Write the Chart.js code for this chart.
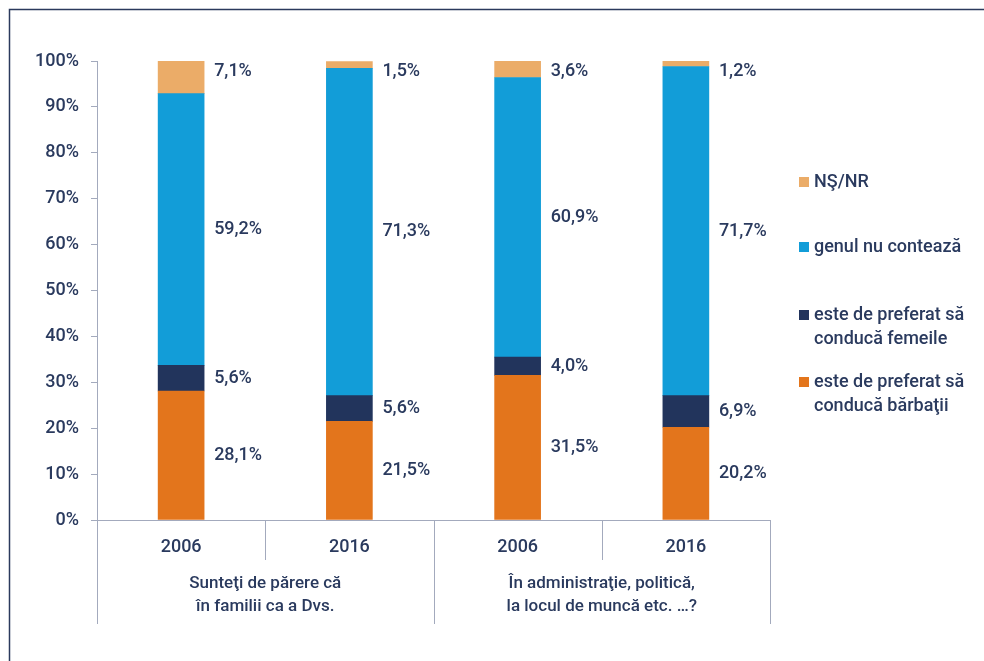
<!DOCTYPE html>
<html>
<head>
<meta charset="utf-8">
<script src="https://cdn.jsdelivr.net/npm/chart.js@4"></script>
<style>
  html, body { margin: 0; padding: 0; background: #fff; }
  #wrap { width: 984px; height: 661px; }
</style>
</head>
<body>
<div id="wrap"><canvas id="genderChart"></canvas></div>
<script>
const years = ['2006', '2016', '2006', '2016'];
const groups = [
    ['Sunteţi de părere că', 'în familii ca a Dvs.'],
    ['În administraţie, politică,', 'la locul de muncă etc. …?']
];
const barbatii = [28.1, 21.5, 31.5, 20.2];
const femeile = [5.6, 5.6, 4.0, 6.9];
const genul = [59.2, 71.3, 60.9, 71.7];
const nsnr = [7.1, 1.5, 3.6, 1.2];
const yTicks = [0, 10, 20, 30, 40, 50, 60, 70, 80, 90, 100];

const textColor = '#2A3A5E';
const lineColor = '#A3AABD';
const font = { family: 'Roboto', size: 18, weight: '500' };

// dataset label lines (used by the legend drawn on the right)
const seriesLines = [
    ['este de preferat să', 'conducă bărbaţii'],
    ['este de preferat să', 'conducă femeile'],
    ['genul nu contează'],
    ['NŞ/NR']
];

const fmt = v => v.toFixed(1).replace('.', ',') + '%';

const framePlugin = {
    id: 'frame',
    beforeDraw(chart) {
        const ctx = chart.ctx;
        ctx.save();
        ctx.strokeStyle = '#2B3A5C';
        ctx.lineWidth = 1.5;
        ctx.beginPath();
        ctx.moveTo(984, 9.5);
        ctx.lineTo(9.5, 9.5);
        ctx.lineTo(9.5, 661);
        ctx.stroke();
        ctx.restore();
    }
};

const extrasPlugin = {
    id: 'extras',
    afterDatasetsDraw(chart) {
        const ctx = chart.ctx;
        const x = chart.scales.x;
        const bottom = chart.chartArea.bottom;
        ctx.save();

        // value labels right of every segment
        ctx.font = '500 18px Roboto';
        ctx.fillStyle = textColor;
        ctx.textAlign = 'left';
        ctx.textBaseline = 'middle';
        const last = chart.data.datasets.length - 1;
        chart.data.datasets.forEach((ds, di) => {
            chart.getDatasetMeta(di).data.forEach((bar, i) => {
                const tx = bar.x + bar.width / 2 + 10;
                const ty = di === last ? bar.y + 10 : (bar.y + bar.base) / 2;
                ctx.fillText(fmt(ds.data[i]), tx, ty);
            });
        });

        // category dividers
        const half = (x.getPixelForValue(1) - x.getPixelForValue(0)) / 2;
        ctx.strokeStyle = lineColor;
        ctx.lineWidth = 1;
        for (let i = 0; i <= years.length; i++) {
            const px = Math.round(x.getPixelForValue(i) - half) + 0.5;
            ctx.beginPath();
            ctx.moveTo(px, bottom);
            ctx.lineTo(px, i % 2 === 0 ? bottom + 104 : bottom + 40);
            ctx.stroke();
        }

        // group labels
        ctx.font = '500 17px Roboto';
        ctx.textAlign = 'center';
        groups.forEach((lines, g) => {
            const cx = (x.getPixelForValue(g * 2) + x.getPixelForValue(g * 2 + 1)) / 2;
            lines.forEach((ln, k) => ctx.fillText(ln, cx, bottom + 64 + k * 23));
        });

        // legend
        ctx.font = '500 18px Roboto';
        ctx.textAlign = 'left';
        const legendY = [182, 247, 315, 382];
        for (let di = last, n = 0; di >= 0; di--, n++) {
            const ds = chart.data.datasets[di];
            const y0 = legendY[n];
            ctx.fillStyle = ds.backgroundColor;
            ctx.fillRect(799, y0 - 5, 10, 10);
            ctx.fillStyle = textColor;
            seriesLines[di].forEach((ln, k) => ctx.fillText(ln, 814, y0 + k * 24));
        }
        ctx.restore();
    }
};

new Chart(document.getElementById('genderChart'), {
    type: 'bar',
    data: {
        labels: years,
        datasets: [
            { label: seriesLines[0].join(' '), data: barbatii, backgroundColor: '#E3751C' },
            { label: seriesLines[1].join(' '), data: femeile, backgroundColor: '#22345C' },
            { label: seriesLines[2].join(' '), data: genul, backgroundColor: '#129DD8' },
            { label: seriesLines[3].join(' '), data: nsnr, backgroundColor: '#EBAC68' }
        ]
    },
    options: {
        responsive: true,
        maintainAspectRatio: false,
        animation: false,
        layout: {
            padding: { left: 9, right: 214, top: 61, bottom: 0 }
        },
        datasets: {
            bar: { barThickness: 46 }
        },
        plugins: {
            legend: false,
            tooltip: { enabled: false }
        },
        scales: {
            x: {
                stacked: true,
                grid: { display: false, drawTicks: false },
                border: { display: true, color: lineColor },
                ticks: { color: textColor, font: font, padding: 17 },
                afterFit: s => { s.height = 141; }
            },
            y: {
                stacked: true,
                min: 0,
                max: 100,
                afterBuildTicks: s => { s.ticks = yTicks.map(v => ({ value: v })); },
                grid: { drawOnChartArea: false, drawTicks: true, tickLength: 6, color: lineColor },
                border: { display: true, color: lineColor },
                ticks: { color: textColor, font: font, padding: 12, callback: v => v + '%' },
                afterFit: s => { s.width = 88; }
            }
        }
    },
    plugins: [framePlugin, extrasPlugin]
});
</script>
</body>
</html>
